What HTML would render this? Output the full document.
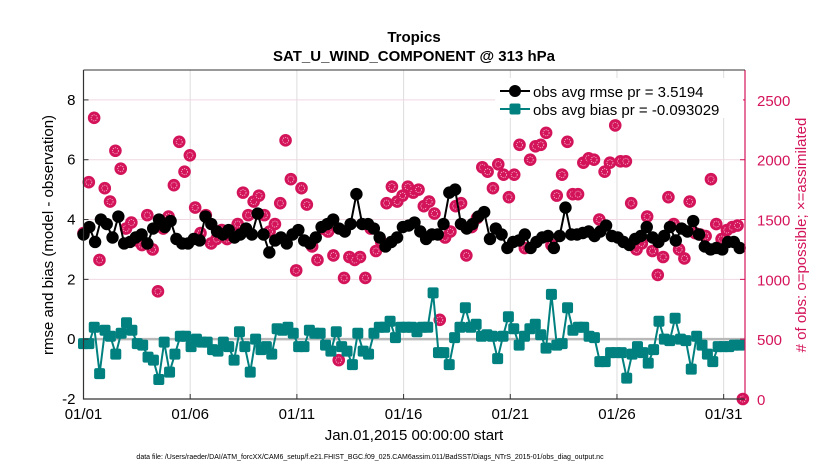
<!DOCTYPE html>
<html><head><meta charset="utf-8"><style>
body{margin:0;background:#fff;}
svg{display:block;font-family:"Liberation Sans",sans-serif;}
</style></head><body>
<svg id="chart" width="830" height="470" viewBox="0 0 830 470" xmlns="http://www.w3.org/2000/svg">
<text x="414" y="42" font-size="15" font-weight="bold" text-anchor="middle">Tropics</text>
<text x="414" y="61" font-size="15" font-weight="bold" text-anchor="middle">SAT_U_WIND_COMPONENT @ 313 hPa</text>
<g id="grid"></g><g id="marks"></g><g id="axes"></g>
<text transform="translate(53,235) rotate(-90)" font-size="15" text-anchor="middle">rmse and bias (model - observation)</text>
<text transform="translate(806,235) rotate(-90)" font-size="15" text-anchor="middle" fill="#d4145a"># of obs: o=possible; ×=assimilated</text>
<text x="414" y="440" font-size="15" text-anchor="middle">Jan.01,2015 00:00:00 start</text>
<text x="370" y="459" font-size="7" text-anchor="middle">data file: /Users/raeder/DAI/ATM_forcXX/CAM6_setup/f.e21.FHIST_BGC.f09_025.CAM6assim.011/BadSST/Diags_NTrS_2015-01/obs_diag_output.nc</text>
<g>
<rect x="495" y="78" width="248" height="40" fill="#fff"/>
<line x1="500" y1="91" x2="530" y2="91" stroke="#000" stroke-width="2"/><circle cx="515" cy="91" r="6" fill="#000"/>
<text x="533" y="97" font-size="15">obs avg rmse pr = 3.5194</text>
<line x1="500" y1="109" x2="530" y2="109" stroke="#00807f" stroke-width="2"/><rect x="509.5" y="103.5" width="11" height="11" rx="2" fill="#00807f"/>
<text x="533" y="115" font-size="15">obs avg bias pr = -0.093029</text>
</g>
</svg>
<script>
const xTickLabels=["01/01","01/06","01/11","01/16","01/21","01/26","01/31"];
const xTickDays=[0,5,10,15,20,25,30];
const yTicks=[-2,0,2,4,6,8];
const y2Ticks=[0,500,1000,1500,2000,2500];
const rmse=[3.5,3.75,3.25,4.0,3.85,3.4,4.1,3.2,3.25,3.4,3.5,3.2,3.7,4.0,3.75,3.95,3.35,3.2,3.2,3.35,3.3,4.1,3.85,3.6,3.5,3.65,3.4,3.5,3.7,3.5,4.2,3.5,2.9,3.3,3.4,3.2,3.5,3.65,3.3,3.2,3.4,3.75,3.85,4.0,3.7,3.6,3.85,4.85,3.85,3.85,3.7,3.4,3.1,3.25,3.4,3.75,3.8,3.9,3.6,3.35,3.5,3.5,3.85,4.9,5.0,3.85,3.7,3.85,4.1,4.25,3.35,3.7,3.5,3.05,3.25,3.3,3.5,3.05,3.25,3.4,3.45,3.05,3.45,4.4,3.5,3.5,3.55,3.6,3.45,3.6,3.8,3.45,3.4,3.25,3.15,3.35,3.45,3.75,3.4,3.25,3.45,3.75,3.3,3.7,3.6,3.95,3.5,3.1,3.0,3.05,3.0,3.25,3.25,3.05];
const bias=[-0.15,-0.15,0.4,-1.15,0.3,0.1,-0.5,0.2,0.55,0.3,-0.15,-0.2,-0.6,-0.7,-1.35,-0.1,-1.1,-0.5,0.1,0.1,-0.25,0,-0.1,-0.1,-0.35,-0.4,-0.1,-0.25,-0.7,0.25,-0.25,-1.1,0,-0.35,-0.25,-0.5,0.35,0.3,0.4,0.2,-0.25,-0.25,0.3,0.2,0.2,-0.2,-0.4,0.25,-0.25,-0.4,-0.85,0.2,-0.4,-0.5,0.2,0.4,0.4,0.6,0.05,0.4,0.4,0.4,0.25,0.4,0.4,1.55,-0.45,-0.45,-0.85,0.05,0.4,1.05,0.4,0.5,0.1,0.15,0.1,-0.65,0.1,0.75,0.35,-0.2,0.1,0.35,0.5,0.15,-0.3,1.5,-0.2,-0.15,1.05,0.3,0.4,0.4,0.1,0.05,-0.75,-0.75,-0.45,-0.45,-0.45,-1.3,-0.5,-0.25,-0.45,-0.8,-0.35,0.6,0,-0.05,0.7,0,-0.05,-1.0,0.1,-0.2,-0.5,-0.75,-0.25,-0.25,-0.25,-0.2,-0.2];
const obsCount=[1387,1812,2350,1162,1762,1650,2075,1925,1425,1475,1325,1287,1537,1250,900,1425,1525,1787,2150,1900,2037,1600,1387,1537,1300,1337,1412,1337,1387,1462,1725,1537,1650,1700,1537,1400,1462,1637,2162,1837,1075,1762,1625,1275,1162,1425,1400,1200,325,1012,1187,1162,1187,1012,1425,1237,1312,1637,1775,1650,1700,1775,1725,1750,1612,1650,1550,662,1350,1400,1612,1637,1200,1437,1512,1937,1900,1762,1962,1875,1687,1875,2125,1262,2000,2112,2125,2225,1287,1700,1875,2150,1712,1712,1975,2012,2000,1500,1900,1975,2287,1987,1987,1637,1250,1300,1525,1237,1037,1187,1687,1462,1250,1175,1650,1387,1375,1362,1837,1462,1337,1412,1437,1450,0];

const L=83.5,R=745,T=70,B=399,X0=0,X1=31,Y0=-2,Y1=9,Y2max=2750;
const sx=d=>L+(d-X0)/(X1-X0)*(R-L);
const sy=v=>B-(v-Y0)/(Y1-Y0)*(B-T);
const sy2=c=>B-c/Y2max*(B-T);
const NS="http://www.w3.org/2000/svg";
function mk(tag,attrs,parent){const e=document.createElementNS(NS,tag);for(const k in attrs)e.setAttribute(k,attrs[k]);parent.appendChild(e);return e;}
const grid=document.getElementById('grid'),marks=document.getElementById('marks'),axes=document.getElementById('axes');
const dayOf=(i,n,last)=>i*last/(n-1);

xTickDays.forEach((d,i)=>{
  const g=mk('line',{x1:sx(d),x2:sx(d),y1:T,y2:B,stroke:'#ddd','stroke-width':1},grid);
  
  
  const t=mk('text',{x:sx(d),y:B+20,'font-size':15,'text-anchor':'middle'},axes);
  t.textContent=xTickLabels[i];
  
  
  mk('line',{x1:sx(d),x2:sx(d),y1:B,y2:B-5,stroke:'#333'},axes);
});
yTicks.forEach(v=>{
  if(v>Y0&&v!==0){const g=mk('line',{x1:L,x2:R,y1:sy(v),y2:sy(v),stroke:'#f0d8e2','stroke-width':1},grid);
  
  }
  const t=mk('text',{x:L-8,y:sy(v)+5,'font-size':15,'text-anchor':'end'},axes);
  t.textContent=v;
  
  
  mk('line',{x1:L,x2:L+5,y1:sy(v),y2:sy(v),stroke:'#333'},axes);
});
y2Ticks.forEach(c=>{
  const t=mk('text',{x:R+12,y:sy2(c)+6,'font-size':15,fill:'#d4145a'},axes);
  t.textContent=c;
  
  
  mk('line',{x1:R,x2:R-5,y1:sy2(c),y2:sy2(c),stroke:'#d4145a'},axes);
});
const zl=mk('line',{x1:L,x2:R,y1:sy(0),y2:sy(0),stroke:'#b8b8b8','stroke-width':2.5},grid);


mk('path',{d:`M${L},${T}V${B}H${R}`,fill:'none',stroke:'#333','stroke-width':1.2},axes);
mk('line',{x1:R,x2:R,y1:T,y2:B,stroke:'#d4145a','stroke-width':1.2},axes);
mk('line',{x1:L,x2:R,y1:T,y2:T,stroke:'#333','stroke-width':1},axes);

const gObs=mk('g',{},marks);


obsCount.forEach((c,i)=>{
  const x=sx(dayOf(i,obsCount.length,30.9)),y=sy2(c);
  const m=mk('g',{},gObs);
  
  
  mk('circle',{cx:x,cy:y,r:6.3,fill:'#d4145a'},m);
  mk('circle',{cx:x,cy:y,r:3,fill:'none',stroke:'#f7b8cc','stroke-width':0.8,'stroke-dasharray':'1.2 1'},m);
});
const rPts=rmse.map((v,i)=>[sx(dayOf(i,rmse.length,30.75)),sy(v)]);
const rl=mk('polyline',{points:rPts.map(p=>p.join(',')).join(' '),fill:'none',stroke:'#000','stroke-width':2},marks);


rPts.forEach(p=>{const c=mk('circle',{cx:p[0],cy:p[1],r:6.2,fill:'#000'},marks);
  
  });
const bPts=bias.map((v,i)=>[sx(dayOf(i,bias.length,30.75)),sy(v)]);
const bl=mk('polyline',{points:bPts.map(p=>p.join(',')).join(' '),fill:'none',stroke:'#00807f','stroke-width':2},marks);


bPts.forEach(p=>{const r=mk('rect',{x:p[0]-5.5,y:p[1]-5.5,width:11,height:11,rx:2,fill:'#00807f'},marks);
  
  });
</script>
</body></html>
